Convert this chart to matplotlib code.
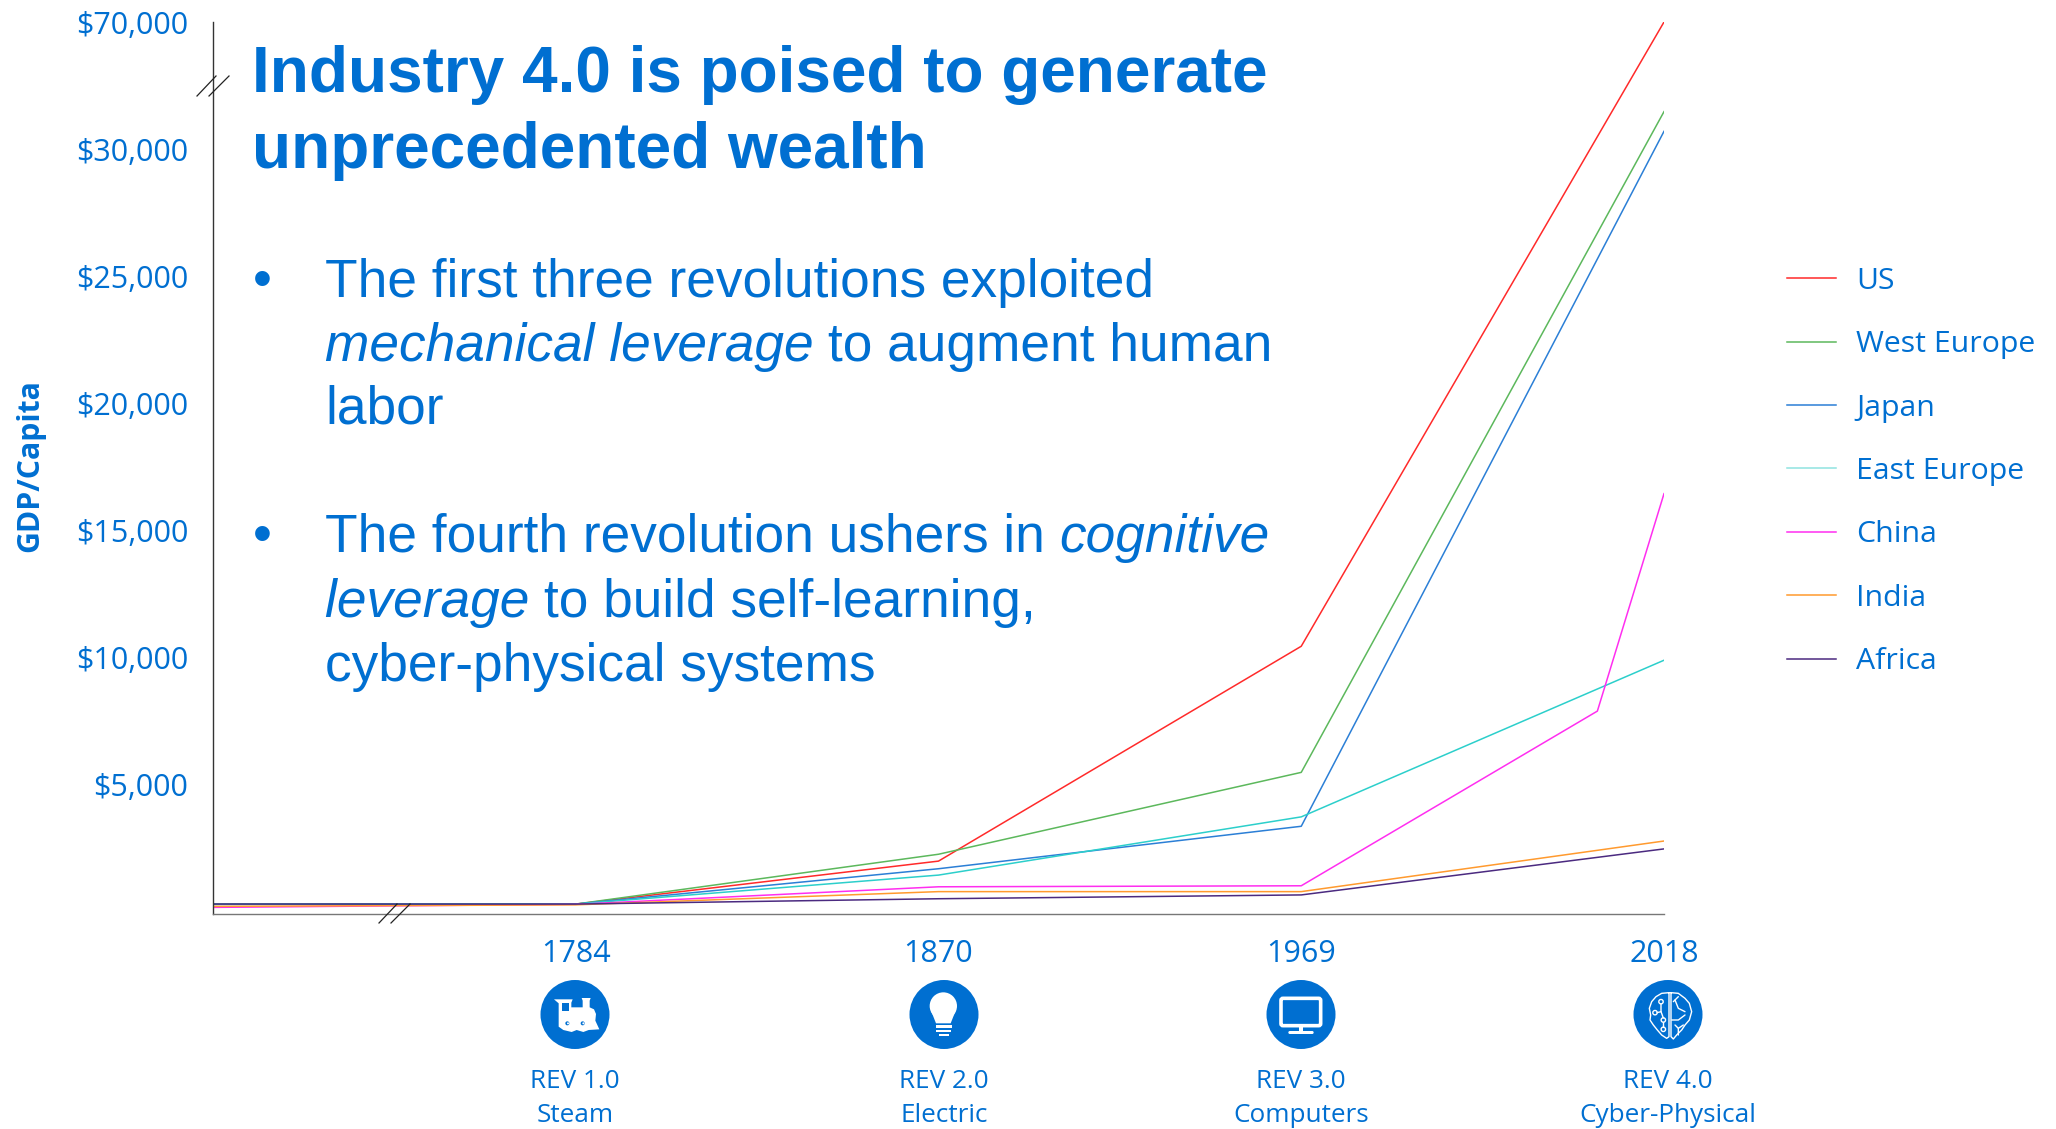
import numpy as np
import matplotlib
matplotlib.use('Agg')
import matplotlib.pyplot as plt
from matplotlib.patches import Circle, Rectangle, Polygon, FancyBboxPatch

W, H = 2056, 1129
BLUE = '#006FD1'

# ---------------- data ----------------
years = [1700, 1784, 1870, 1969, 2018]
us = [320, 310, 2000, 10450, 70000]
west_europe = [310, 310, 2270, 5490, 41800]
japan = [300, 310, 1700, 3370, 35600]
east_europe = [300, 310, 1450, 3740, 9900]
china_years = [1700, 1784, 1870, 1969, 2009, 2018]
china = [180, 300, 990, 1030, 7900, 16450]
india = [220, 280, 800, 800, 2790]
africa = [310, 310, 520, 670, 2480]

y_ticks = [5000, 10000, 15000, 20000, 25000, 30000, 70000]
y_tick_labels = ['$5,000', '$10,000', '$15,000', '$20,000', '$25,000', '$30,000', '$70,000']
x_ticks = [1784, 1870, 1969, 2018]
rev_names = ['REV 1.0', 'REV 2.0', 'REV 3.0', 'REV 4.0']
rev_subs = ['Steam', 'Electric', 'Computers', 'Cyber-Physical']

# axis breaks: both axes are squeezed in places
year_knots = [1700, 1784, 1870, 1969, 2018]
year_pos = [-1, 0, 1, 2, 3]
gdp_knots = [-1000, 30000, 70000]
gdp_pos = [-1000, 30000, 35000]

fig = plt.figure(figsize=(W / 100, H / 100), dpi=100)
ax = fig.add_axes([213 / W, 1 - 914 / H, (1664 - 213) / W, (914 - 22) / H])

ax.set_xscale('function', functions=(lambda v: np.interp(v, year_knots, year_pos),
                                     lambda v: np.interp(v, year_pos, year_knots)))
ax.set_yscale('function', functions=(lambda v: np.interp(v, gdp_knots, gdp_pos),
                                     lambda v: np.interp(v, gdp_pos, gdp_knots)))

ax.plot(years, us, color='#FF2A2A', lw=1.1, label='US')
ax.plot(years, west_europe, color='#5CB85C', lw=1.1, label='West Europe')
ax.plot(years, japan, color='#2B7FD6', lw=1.1, label='Japan')
ax.plot(years, east_europe, color='#2CCFCB', lw=1.1, label='East Europe')
ax.plot(china_years, china, color='#FF2EF0', lw=1.1, label='China')
ax.plot(years, india, color='#FF9A2E', lw=1.1, label='India')
ax.plot(years, africa, color='#4B2A80', lw=1.1, label='Africa')

ax.set_xlim(1700, 2018)
ax.set_ylim(-80, 70000)
ax.set_xticks(x_ticks)
ax.set_xticklabels(x_ticks)
ax.set_yticks(y_ticks)
ax.set_yticklabels(y_tick_labels)
ax.minorticks_off()
ax.tick_params(axis='both', length=0, labelcolor=BLUE, labelsize=22, labelfontfamily='Open Sans')
ax.tick_params(axis='y', pad=18)
ax.tick_params(axis='x', pad=18)
ax.spines['top'].set_visible(False)
ax.spines['right'].set_visible(False)
ax.spines['left'].set_color('#333333')
ax.spines['bottom'].set_color('#777777')
ax.spines['left'].set_linewidth(1.0)
ax.spines['bottom'].set_linewidth(1.0)
ax.patch.set_visible(False)

leg = ax.legend(loc='upper left', bbox_to_anchor=(1787 / W, 1 - 267 / H), bbox_transform=fig.transFigure,
                frameon=False, borderpad=0, borderaxespad=0, handlelength=1.62, handletextpad=0.66,
                labelspacing=1.135, labelcolor=BLUE, prop={'family': 'Open Sans', 'size': 21.8})
leg.get_lines()[3].set_color('#8FE3E0')

# ---------------- everything else, in picture pixels ----------------
ov = fig.add_axes([0, 0, 1, 1], zorder=5)
ov.set_xlim(0, W)
ov.set_ylim(H, 0)
ov.axis('off')

ov.text(30, 466, 'GDP/Capita', rotation=90, color=BLUE, family='Open Sans', weight='bold',
        fontsize=21.8, ha='center', va='center')

for a, b, c, d in [(197, 96, 216, 76), (209, 96, 229, 76), (379, 923, 397, 904), (391, 923, 410, 904)]:
    ov.plot([a, c], [b, d], color='#222222', lw=0.9)

# title
ov.text(252, 92, 'Industry 4.0 is poised to generate', color=BLUE, family='Liberation Sans',
        weight='bold', fontsize=46, va='baseline')
ov.text(252, 168, 'unprecedented wealth', color=BLUE, family='Liberation Sans',
        weight='bold', fontsize=46, va='baseline')

# bullets, italic words are separate runs
rend = fig.canvas.get_renderer()


def text_line(x, y, runs):
    for s, style in runs:
        t = ov.text(x, y, s, color=BLUE, family='Liberation Sans', style=style, fontsize=38.35, va='baseline')
        t.set_parse_math(False)
        x += t.get_window_extent(rend).width


body = [(297, [('The first three revolutions exploited', 'normal')]),
        (361, [('mechanical leverage ', 'italic'), ('to augment human', 'normal')]),
        (424, [('labor', 'normal')]),
        (552, [('The fourth revolution ushers in ', 'normal'), ('cognitive', 'italic')]),
        (617, [('leverage ', 'italic'), ('to build self-learning,', 'normal')]),
        (681, [('cyber-physical systems', 'normal')])]
for y, runs in body:
    text_line(325, y, runs)
for y in [297, 552]:
    ov.text(262, y, '\u2022', color=BLUE, family='Liberation Sans', fontsize=39, ha='center', va='baseline')

# revolution captions
rev_x = [575, 944, 1301, 1668]
for x, a, b in zip(rev_x, rev_names, rev_subs):
    ov.text(x, 1082, a, color=BLUE, family='Open Sans', fontsize=18.8, ha='center', va='center')
    ov.text(x, 1116, b, color=BLUE, family='Open Sans', fontsize=18.8, ha='center', va='center')
    ov.add_patch(Circle((x, 1014.5), 34.5, color=BLUE, lw=0))


def zp(x0, pts):
    return [(x0 + a / 3, 970 + b / 3) for a, b in pts]


def zc(x0, a, b, r, **kw):
    ov.add_patch(Circle((x0 + a / 3, 970 + b / 3), r / 3, lw=0, **kw))


# train
x0 = 530
ov.add_patch(Polygon(zp(x0, [(72, 88), (128, 88), (124, 98), (124, 112), (158, 112), (158, 92), (155, 84), (182, 84),
                             (179, 92), (179, 112), (192, 118), (198, 132), (196, 152), (208, 178), (176, 180),
                             (160, 186), (140, 180), (125, 186), (100, 180), (86, 170), (86, 100)]),
                     color='white', lw=0))
ov.add_patch(Polygon(zp(x0, [(96, 98), (116, 98), (116, 124), (96, 124)]), color=BLUE, lw=0))
for a in [112, 158]:
    zc(x0, a, 160, 6, color=BLUE)
    zc(x0, a + 2, 160, 3, color='white')

# bulb
x0 = 900
zc(x0, 130, 108, 41, color='white')
ov.add_patch(Polygon(zp(x0, [(93, 122), (108, 160), (152, 160), (167, 122)]), color='white', lw=0))
for a, b, c, d in [(107, 166, 156, 173), (109, 179, 154, 186), (116, 192, 146, 199)]:
    ov.add_patch(Polygon(zp(x0, [(a, b), (c, b), (c, d), (a, d)]), color='white', lw=0))

# monitor
x0 = 1250
ov.add_patch(FancyBboxPatch((x0 + 93 / 3, 970 + 85 / 3), 119 / 3, 82 / 3, boxstyle='round,pad=0,rounding_size=2',
                            fc=BLUE, ec='white', lw=2.6))
ov.add_patch(Rectangle((x0 + 147 / 3, 970 + 170 / 3), 12 / 3, 14 / 3, color='white', lw=0))
ov.add_patch(FancyBboxPatch((x0 + 115 / 3, 970 + 183 / 3), 76 / 3, 9 / 3, boxstyle='round,pad=0,rounding_size=1.5',
                            color='white', lw=0))

# brain
x0 = 1620
left = [(147, 68), (125, 70), (108, 80), (95, 95), (88, 115), (92, 135), (90, 150), (100, 165), (112, 180),
        (125, 195), (140, 205), (147, 200), (147, 68)]
right = [(153, 68), (175, 70), (195, 85), (208, 100), (215, 125), (208, 150), (195, 165), (185, 180), (170, 195),
         (160, 207), (153, 200), (153, 68)]
wires = [[(123, 101), (123, 125), (111, 128)], [(123, 125), (130, 144)], [(130, 156), (130, 172)],
         [(160, 95), (175, 80)], [(165, 90), (175, 115), (195, 125)], [(155, 150), (175, 150), (195, 135)],
         [(165, 165), (175, 175), (175, 195)], [(175, 175), (190, 165)]]
for pts in [left, right] + wires:
    p = np.array(zp(x0, pts))
    ov.plot(p[:, 0], p[:, 1], color='white', lw=1.0, solid_capstyle='round')
for a, b in [(123, 95), (105, 128), (130, 150), (130, 178)]:
    p = zp(x0, [(a, b)])[0]
    ov.add_patch(Circle(p, 2.2, fc=BLUE, ec='white', lw=1.0))

fig.savefig('out.png', dpi=100)
